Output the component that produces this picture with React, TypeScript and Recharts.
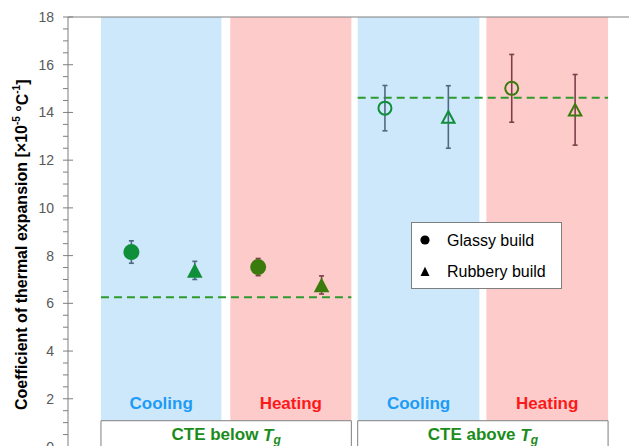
import {
  ComposedChart,
  Scatter,
  XAxis,
  YAxis,
  ErrorBar,
  ReferenceArea,
  ReferenceLine,
  Legend,
} from "recharts";

// measured CTE values [x10^-5 /°C], order: below Tg cooling, below Tg heating, above Tg cooling, above Tg heating
const conditions = ["Cooling", "Heating", "Cooling", "Heating"];
const glassyCte = [8.15, 7.52, 14.18, 15.01];
const glassyErr = [0.47, 0.36, 0.95, 1.42];
const rubberyCte = [7.38, 6.77, 13.81, 14.11];
const rubberyErr = [0.38, 0.38, 1.31, 1.48];
// dashed reference lines (below Tg, above Tg)
const regionNames = ["CTE below", "CTE above"];
const regionMeanCte = [6.26, 14.62];
const builds = ["Glassy build", "Rubbery build"];
const yMajorTicks = [0, 2, 4, 6, 8, 10, 12, 14, 16, 18];

const FONT = "Arial, 'Liberation Sans', sans-serif";
const AXIS_GRAY = "#7f7f7f";
const BAND_FILL: Record<string, string> = { Cooling: "#cde8fb", Heating: "#fecbcb" };
const BAND_TEXT: Record<string, string> = { Cooling: "#1e9bf5", Heating: "#fb1a1a" };
const MARK_COLOR: Record<string, string> = { Cooling: "#0f8f3a", Heating: "#3b7b0e" };
const ERR_COLOR: Record<string, string> = { Cooling: "#4d6a82", Heating: "#7b4048" };

// x extents of the coloured bands on the numeric x scale (points sit at 1..8)
const bandX = [
  [0.52, 2.42],
  [2.56, 4.47],
  [4.57, 6.49],
  [6.6, 8.52],
];

const yTicks = yMajorTicks.flatMap((t) => (t < 18 ? [t, t + 0.5, t + 1, t + 1.5] : [t]));

function Marker({ cx, cy, kind, filled, color }: any) {
  if (cx == null || cy == null) return null;
  if (kind === "circle") {
    return filled ? (
      <circle cx={cx} cy={cy} r={8} fill={color} />
    ) : (
      <circle cx={cx} cy={cy} r={6.5} fill="none" stroke={color} strokeWidth={2} />
    );
  }
  const hw = filled ? 7.8 : 6.2;
  const h = filled ? 14.7 : 11.5;
  const pts = `${cx},${cy - h / 2} ${cx - hw},${cy + h / 2} ${cx + hw},${cy + h / 2}`;
  return filled ? (
    <polygon points={pts} fill={color} />
  ) : (
    <polygon points={pts} fill="none" stroke={color} strokeWidth={2} strokeLinejoin="miter" />
  );
}

function YTick({ x, y, payload }: any) {
  const v = payload.value;
  const major = Math.abs(v % 2) < 1e-6;
  return (
    <g>
      <line x1={x - 5} x2={major ? x + 5 : x} y1={y} y2={y} stroke={AXIS_GRAY} strokeWidth={1} />
      {major && (
        <text x={x - 14} y={y} textAnchor="end" dominantBaseline="central" fill="#595959" fontSize={14}>
          {v}
        </text>
      )}
    </g>
  );
}

const yTitle = (props: any) => {
  const vb = props.viewBox;
  const x = vb.x + 21.5;
  const y = vb.y + vb.height / 2 + 13;
  return (
    <text
      x={x}
      y={y}
      transform={`rotate(-90, ${x}, ${y})`}
      textAnchor="middle"
      dominantBaseline="central"
      fontSize={16}
      fontWeight="bold"
      fill="#000"
    >
      Coefficient of thermal expansion [×10
      <tspan dy={-6} fontSize={10}>-5</tspan>
      <tspan dy={6}> °C</tspan>
      <tspan dy={-6} fontSize={10}>-1</tspan>
      <tspan dy={6}>]</tspan>
    </text>
  );
};

const regionLabel = (name: string) => (props: any) => {
  const vb = props.viewBox;
  const x = vb.x + vb.width / 2;
  const y = vb.y + vb.height / 2 + 1;
  return (
    <text x={x} y={y} textAnchor="middle" dominantBaseline="central" fontSize={17} fontWeight="bold" fill="#1a8c1a">
      {name} <tspan fontStyle="italic">T</tspan>
      <tspan fontStyle="italic" fontSize={12} dy={5}>g</tspan>
    </text>
  );
};

function LegendBox() {
  return (
    <div
      style={{
        width: 151,
        height: 67,
        border: `1px solid ${AXIS_GRAY}`,
        background: "#fff",
        boxSizing: "border-box",
        fontFamily: FONT,
      }}
    >
      <svg width={149} height={65}>
        {builds.map((b, i) => {
          const cy = 17 + i * 31.7;
          return (
            <g key={b}>
              {i === 0 ? (
                <circle cx={13} cy={cy} r={4.6} fill="#000" />
              ) : (
                <polygon points={`13,${cy - 5} ${8.5},${cy + 4.2} ${17.5},${cy + 4.2}`} fill="#000" />
              )}
              <text x={35} y={cy} dominantBaseline="central" fontSize={16} fill="#000">
                {b}
              </text>
            </g>
          );
        })}
      </svg>
    </div>
  );
}

export default function App() {
  const series = conditions.flatMap((cond, i) => [
    { key: `g${i}`, kind: "circle", data: [{ x: 2 * i + 1, y: glassyCte[i], err: glassyErr[i] }], cond, filled: i < 2 },
    { key: `r${i}`, kind: "triangle", data: [{ x: 2 * i + 2, y: rubberyCte[i], err: rubberyErr[i] }], cond, filled: i < 2 },
  ]);

  return (
    <div style={{ position: "absolute", left: 0, top: 0, fontFamily: FONT }}>
      <ComposedChart width={629} height={460} margin={{ top: 17, right: 0, bottom: 13.5, left: 0 }}>
        <XAxis type="number" dataKey="x" domain={[0, 8.85]} hide />
        <YAxis
          type="number"
          dataKey="y"
          domain={[0, 18]}
          ticks={yTicks}
          interval={0}
          width={68}
          tickSize={0}
          tickMargin={0}
          tickLine={false}
          axisLine={{ stroke: AXIS_GRAY }}
          tick={<YTick />}
          label={yTitle}
        />
        {bandX.map(([a, b], i) => (
          <ReferenceArea key={`band${i}`} x1={a} x2={b} y1={1.08} y2={18} fill={BAND_FILL[conditions[i]]} fillOpacity={1} stroke="none" />
        ))}
        {bandX.map(([a, b], i) => (
          <ReferenceArea
            key={`bl${i}`}
            x1={a}
            x2={b}
            y1={1.08}
            y2={2.6}
            fill="none"
            stroke="none"
            label={{ value: conditions[i], position: "center", fill: BAND_TEXT[conditions[i]], fontSize: 17, fontWeight: "bold" }}
          />
        ))}
        {regionNames.map((name, r) => (
          <ReferenceArea
            key={`box${r}`}
            x1={bandX[2 * r][0]}
            x2={bandX[2 * r + 1][1]}
            y1={0}
            y2={1.08}
            fill="#fff"
            fillOpacity={1}
            stroke={AXIS_GRAY}
            strokeWidth={1}
            label={regionLabel(name)}
          />
        ))}
        <ReferenceLine y={18} stroke={AXIS_GRAY} strokeWidth={1} />
        {regionMeanCte.map((v, r) => (
          <ReferenceLine
            key={`mean${r}`}
            segment={[
              { x: bandX[2 * r][0], y: v },
              { x: bandX[2 * r + 1][1], y: v },
            ]}
            stroke="#2e9a2e"
            strokeWidth={2}
            strokeDasharray="8 5"
          />
        ))}
        {series.map((s) => (
          <Scatter
            key={s.key}
            data={s.data}
            isAnimationActive={false}
            shape={(p: any) => (
              <Marker cx={p.cx} cy={p.cy} kind={s.kind} filled={s.filled} color={MARK_COLOR[s.cond]} />
            )}
          >
            <ErrorBar dataKey="err" direction="y" width={2.5} stroke={ERR_COLOR[s.cond]} strokeWidth={1.6} />
          </Scatter>
        ))}
        <Legend
          layout="vertical"
          align="center"
          verticalAlign="middle"
          wrapperStyle={{ left: 411, top: 222, width: 151, height: 67 }}
          content={() => <LegendBox />}
        />
      </ComposedChart>
    </div>
  );
}
